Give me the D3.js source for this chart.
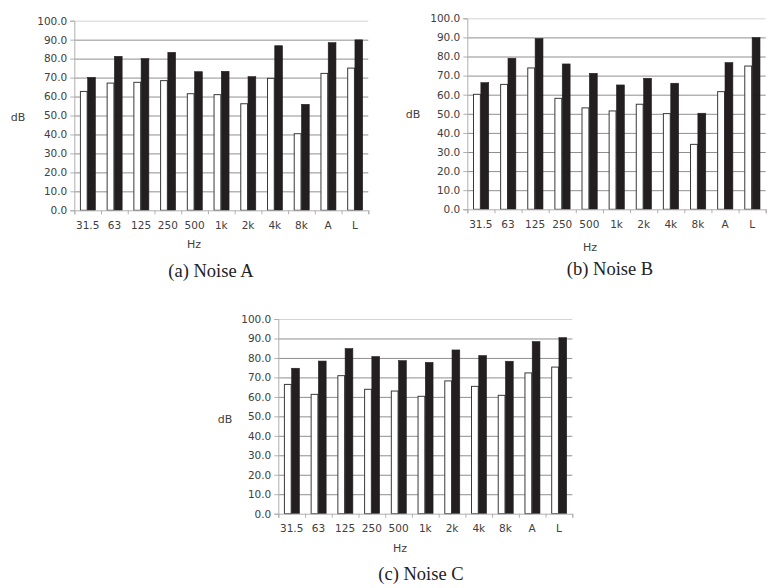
<!DOCTYPE html>
<meta charset="utf-8">
<style>
  body { margin: 0; background: #fff; }
  svg text { font-family: "DejaVu Sans", sans-serif; }
</style>
<div id="container"></div>
<script src="https://cdn.jsdelivr.net/npm/d3@7"></script>
<script>
  const width = 780;
  const height = 588;

  const categories = ["31.5", "63", "125", "250", "500", "1k", "2k", "4k", "8k", "A", "L"];
  const yTicks = [0, 10, 20, 30, 40, 50, 60, 70, 80, 90, 100];

  // open (white) and filled (black) bars
  const noiseAOpen = [62.7, 67.1, 67.5, 68.4, 61.5, 61.0, 56.2, 69.6, 40.4, 72.2, 75.0];
  const noiseAFilled = [70.1, 81.2, 80.0, 83.3, 73.1, 73.3, 70.5, 86.8, 55.9, 88.4, 89.9];
  const noiseBOpen = [60.2, 65.4, 74.0, 58.1, 53.1, 51.5, 55.0, 50.1, 34.0, 61.6, 75.0];
  const noiseBFilled = [66.3, 79.1, 89.4, 76.1, 71.2, 65.1, 68.6, 66.0, 50.3, 76.8, 89.9];
  const noiseCOpen = [66.4, 61.3, 70.9, 63.9, 63.0, 60.3, 68.2, 65.4, 60.8, 72.3, 75.3];
  const noiseCFilled = [74.7, 78.4, 84.8, 80.7, 78.6, 77.7, 84.1, 81.2, 78.3, 88.4, 90.4];

  const svg = d3.create("svg")
    .attr("width", width)
    .attr("height", height);

  const panels = [
    { caption: "(a) Noise A", open: noiseAOpen, filled: noiseAFilled,
      x0: 74.3, x1: 368.3, yTop: 20.7, yBot: 210.3, dbX: 18, dbY: 117, hzX: 194, hzY: 244, capX: 211, capY: 271 },
    { caption: "(b) Noise B", open: noiseBOpen, filled: noiseBFilled,
      x0: 467.3, x1: 765.7, yTop: 18.3, yBot: 209.3, dbX: 413, dbY: 114, hzX: 590, hzY: 247, capX: 610, capY: 269 },
    { caption: "(c) Noise C", open: noiseCOpen, filled: noiseCFilled,
      x0: 278.3, x1: 572.3, yTop: 319, yBot: 513.7, dbX: 225, dbY: 419, hzX: 400, hzY: 548, capX: 421, capY: 574 },
  ];

  const drawPanel = (p) => {
    const g = svg.append("g");

    const x = d3.scaleBand().domain(categories).range([p.x0, p.x1])
      .paddingInner(0.42).paddingOuter(0.21);
    const xSub = d3.scaleBand().domain(["open", "filled"]).range([0, x.bandwidth()]);
    const xEdges = d3.scaleLinear().domain([0, categories.length]).range([p.x0, p.x1]);
    const y = d3.scaleLinear().domain([0, 100]).range([p.yBot, p.yTop]);

    // gridlines
    g.append("g")
      .attr("transform", `translate(${p.x0},0)`)
      .call(d3.axisLeft(y).tickValues(yTicks.slice(1)).tickSize(-(p.x1 - p.x0)).tickFormat(""))
      .call(s => s.select(".domain").remove())
      .call(s => s.selectAll("line").attr("stroke", d => d === 100 ? "#d4d4d4" : "#8f8f8f"));

    // y axis
    g.append("g")
      .attr("transform", `translate(${p.x0},0)`)
      .call(d3.axisLeft(y).tickValues(yTicks).tickSize(4).tickPadding(3).tickFormat(d3.format(".1f")))
      .call(s => s.select(".domain").attr("stroke", "#b0b0b0"))
      .call(s => s.selectAll("line").attr("stroke", "#b0b0b0"))
      .call(s => s.selectAll("text").attr("fill", "#404040").style("font-size", "10.5px")
        .style("font-family", "DejaVu Sans"));

    // bars
    const rows = categories.map((c, i) => ({ c, open: p.open[i], filled: p.filled[i] }));
    const grp = g.append("g").selectAll("g").data(rows).join("g")
      .attr("transform", d => `translate(${x(d.c)},0)`);
    grp.append("rect")
      .attr("x", xSub("open") + 0.5)
      .attr("y", d => y(d.open))
      .attr("width", xSub.bandwidth() - 1)
      .attr("height", d => y(0) - y(d.open))
      .attr("fill", "#fff")
      .attr("stroke", "#3a3a3a")
      .attr("stroke-width", 1);
    grp.append("rect")
      .attr("x", xSub("filled"))
      .attr("y", d => y(d.filled))
      .attr("width", xSub.bandwidth())
      .attr("height", d => y(0) - y(d.filled))
      .attr("fill", "#231f20")
      .attr("stroke", "#231f20")
      .attr("stroke-width", 0.6);

    // x axis
    g.append("g")
      .attr("transform", `translate(0,${p.yBot})`)
      .call(d3.axisBottom(xEdges).tickValues(d3.range(categories.length + 1)).tickSize(4).tickFormat(""))
      .call(s => s.select(".domain").attr("stroke", "#b0b0b0"))
      .call(s => s.selectAll("line").attr("stroke", "#b0b0b0"));
    g.append("g")
      .attr("transform", `translate(0,${p.yBot})`)
      .call(d3.axisBottom(x).tickSize(0).tickPadding(11))
      .call(s => s.select(".domain").remove())
      .call(s => s.selectAll("text").attr("fill", "#404040").style("font-size", "10.5px")
        .style("font-family", "DejaVu Sans"));

    g.append("text")
      .attr("x", p.dbX).attr("y", p.dbY)
      .attr("text-anchor", "middle").attr("dominant-baseline", "central")
      .attr("fill", "#404040").style("font-size", "11px")
      .text("dB");
    g.append("text")
      .attr("x", p.hzX).attr("y", p.hzY)
      .attr("text-anchor", "middle").attr("dominant-baseline", "central")
      .attr("fill", "#404040").style("font-size", "11px")
      .text("Hz");
    g.append("text")
      .attr("x", p.capX).attr("y", p.capY)
      .attr("text-anchor", "middle").attr("dominant-baseline", "central")
      .attr("fill", "#222").style("font-size", "18.5px")
      .style("font-family", "'Liberation Serif', serif")
      .text(p.caption);
  };

  panels.forEach(drawPanel);

  document.getElementById("container").appendChild(svg.node());
</script>
